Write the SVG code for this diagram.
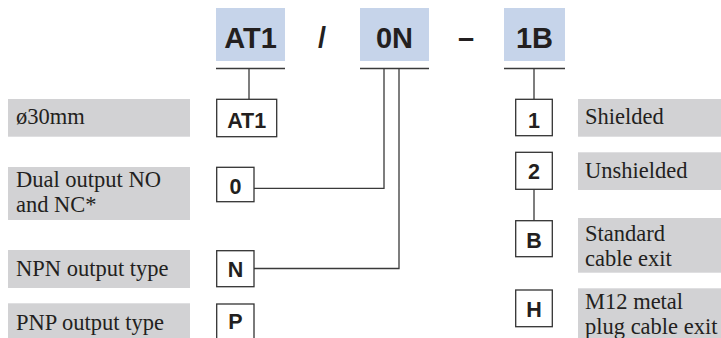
<svg xmlns="http://www.w3.org/2000/svg" width="721" height="338" viewBox="0 0 721 338">
<style>
.hdr{fill:#c6d4ea}
.ht{font-family:"Liberation Sans",Arial,sans-serif;font-weight:bold;font-size:29px;fill:#231f20;text-anchor:middle}
.box{fill:#fff;stroke:#333;stroke-width:1.3}
.bt{font-family:"Liberation Sans",Arial,sans-serif;font-weight:bold;font-size:21.5px;fill:#231f20;text-anchor:middle}
.lab{fill:#d2d2d4}
.lt{font-family:"Liberation Serif","Times New Roman",serif;font-size:22.5px;fill:#231f20}
.ln{fill:none;stroke:#3a3a3a;stroke-width:1.3}
</style>
<g id="header">
<rect class="hdr" x="216" y="8" width="69" height="53"/>
<text class="ht" x="250.5" y="48">AT1</text>
<text class="ht" x="322" y="48">/</text>
<rect class="hdr" x="360" y="8" width="69" height="53"/>
<text class="ht" x="394.5" y="48">0N</text>
<text class="ht" x="466" y="48">–</text>
<rect class="hdr" x="504" y="8" width="61" height="53"/>
<text class="ht" x="534.5" y="48">1B</text>
</g>
<g id="connectors">
<path class="ln" d="M216 68.5H285M249 68.5V99"/>
<path class="ln" d="M360 68.5H429M384 68.5V188.3H254M399 68.5V268.5H254"/>
<path class="ln" d="M504 68.5H565M534 68.5V99.3M534 189.3V220.7"/>
</g>
<g id="label-size"><rect class="lab" x="8" y="99" width="182" height="37.7"/><text class="lt" x="16" y="123.5">ø30mm</text></g>
<g id="label-dual"><rect class="lab" x="8" y="167" width="182" height="53"/><text class="lt"><tspan x="16" y="187">Dual output NO</tspan><tspan x="16" y="212">and NC*</tspan></text></g>
<g id="label-npn"><rect class="lab" x="8" y="250" width="182" height="38"/><text class="lt" x="16" y="276">NPN output type</text></g>
<g id="label-pnp"><rect class="lab" x="8" y="303.3" width="182" height="40"/><text class="lt" x="16" y="330">PNP output type</text></g>
<g id="box-AT1"><rect class="box" x="216.7" y="99.3" width="60" height="37.4"/><text class="bt" x="246.7" y="128.3">AT1</text></g>
<g id="box-0"><rect class="box" x="216.7" y="167.3" width="37.3" height="34.4"/><text class="bt" x="235.4" y="194.3">0</text></g>
<g id="box-N"><rect class="box" x="216.7" y="250.7" width="37.3" height="36"/><text class="bt" x="235.4" y="277.3">N</text></g>
<g id="box-P"><rect class="box" x="216.7" y="304" width="37.3" height="40"/><text class="bt" x="235.4" y="329.3">P</text></g>
<g id="box-1"><rect class="box" x="515.7" y="99.3" width="36.6" height="36.4"/><text class="bt" x="534" y="128">1</text></g>
<g id="box-2"><rect class="box" x="515.7" y="152.3" width="36.6" height="37"/><text class="bt" x="534" y="178.6">2</text></g>
<g id="box-B"><rect class="box" x="515.7" y="220.7" width="36.6" height="36"/><text class="bt" x="534" y="248">B</text></g>
<g id="box-H"><rect class="box" x="515.7" y="290" width="36.6" height="36.7"/><text class="bt" x="534" y="317.3">H</text></g>
<g id="label-shielded"><rect class="lab" x="578" y="99" width="143" height="37.7"/><text class="lt" x="585" y="124.3">Shielded</text></g>
<g id="label-unshielded"><rect class="lab" x="578" y="152.3" width="143" height="37.7"/><text class="lt" x="585" y="177.7">Unshielded</text></g>
<g id="label-standard"><rect class="lab" x="578" y="218" width="143" height="54.7"/><text class="lt"><tspan x="585" y="241">Standard</tspan><tspan x="585" y="266">cable exit</tspan></text></g>
<g id="label-m12"><rect class="lab" x="578" y="288.3" width="143" height="52"/><text class="lt"><tspan x="585" y="308.5">M12 metal</tspan><tspan x="585" y="333.5">plug cable exit</tspan></text></g>
</svg>
